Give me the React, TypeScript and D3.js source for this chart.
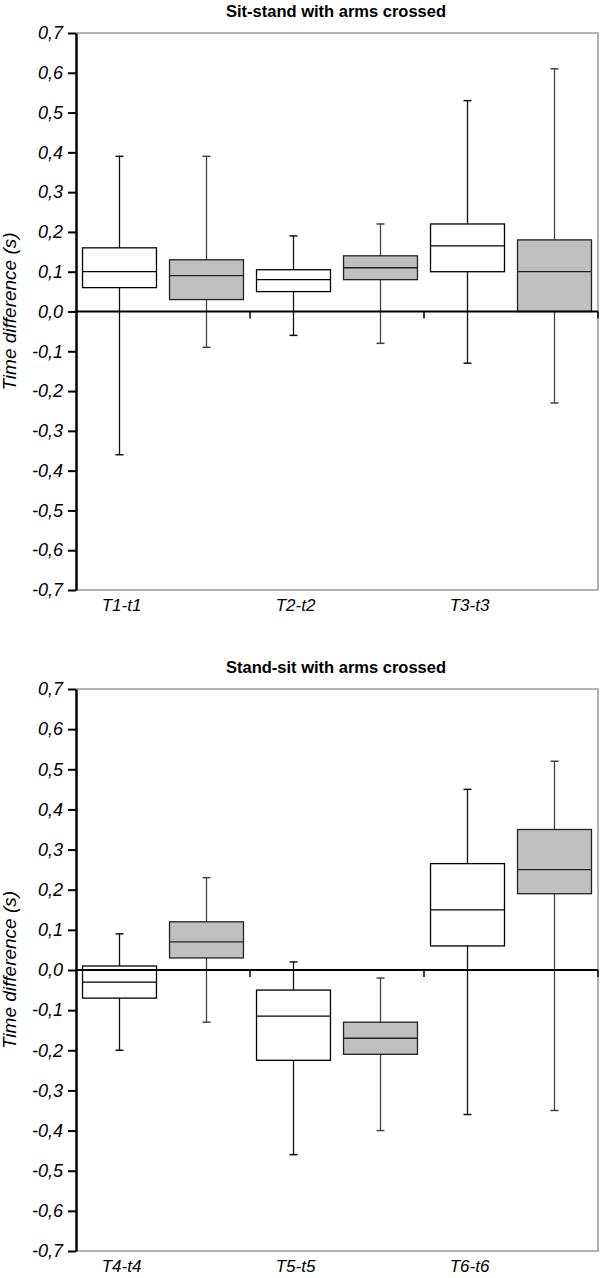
import React, { useEffect, useRef } from 'react'
import * as d3 from 'd3'

// box plot data (white = first box, gray = second box)
const categoriesTop = ['T1-t1', 'T2-t2', 'T3-t3']
const categoriesBottom = ['T4-t4', 'T5-t5', 'T6-t6']

const topWhiteMin = [-0.36, -0.06, -0.13]
const topWhiteQ1 = [0.06, 0.05, 0.10]
const topWhiteMed = [0.10, 0.08, 0.165]
const topWhiteQ3 = [0.16, 0.105, 0.22]
const topWhiteMax = [0.39, 0.19, 0.53]

const topGrayMin = [-0.09, -0.08, -0.23]
const topGrayQ1 = [0.03, 0.08, 0.0]
const topGrayMed = [0.09, 0.11, 0.10]
const topGrayQ3 = [0.13, 0.14, 0.18]
const topGrayMax = [0.39, 0.22, 0.61]

const botWhiteMin = [-0.20, -0.46, -0.36]
const botWhiteQ1 = [-0.07, -0.225, 0.06]
const botWhiteMed = [-0.03, -0.115, 0.15]
const botWhiteQ3 = [0.01, -0.05, 0.265]
const botWhiteMax = [0.09, 0.02, 0.45]

const botGrayMin = [-0.13, -0.40, -0.35]
const botGrayQ1 = [0.03, -0.21, 0.19]
const botGrayMed = [0.07, -0.17, 0.25]
const botGrayQ3 = [0.12, -0.13, 0.35]
const botGrayMax = [0.23, -0.02, 0.52]

const yTicks = [0.7, 0.6, 0.5, 0.4, 0.3, 0.2, 0.1, 0, -0.1, -0.2, -0.3, -0.4, -0.5, -0.6, -0.7]

const FONT = "'Liberation Sans', Arial, Helvetica, sans-serif"

type Panel = {
  title: string
  cats: string[]
  white: number[][]
  gray: number[][]
  top: number
  bottom: number
}

export default function App() {
  const ref = useRef<SVGSVGElement>(null)

  useEffect(() => {
    const svg = d3.select(ref.current)
    svg.selectAll('*').remove()

    const left = 76
    const right = 598

    const panels: Panel[] = [
      {
        title: 'Sit-stand with arms crossed',
        cats: categoriesTop,
        white: [topWhiteMin, topWhiteQ1, topWhiteMed, topWhiteQ3, topWhiteMax],
        gray: [topGrayMin, topGrayQ1, topGrayMed, topGrayQ3, topGrayMax],
        top: 33,
        bottom: 590,
      },
      {
        title: 'Stand-sit with arms crossed',
        cats: categoriesBottom,
        white: [botWhiteMin, botWhiteQ1, botWhiteMed, botWhiteQ3, botWhiteMax],
        gray: [botGrayMin, botGrayQ1, botGrayMed, botGrayQ3, botGrayMax],
        top: 689,
        bottom: 1251,
      },
    ]

    panels.forEach((p) => {
      const g = svg.append('g')

      const y = d3.scaleLinear().domain([-0.7, 0.7]).range([p.bottom, p.top])
      const x = d3.scaleBand<string>().domain(p.cats).range([left, right]).padding(0)
      const sub = d3.scaleBand<string>()
        .domain(['white', 'gray'])
        .range([0, x.bandwidth()])
        .paddingInner(0.15)
        .paddingOuter(0.075)

      /* title */
      g.append('text')
        .attr('x', (left + right) / 2 - 1)
        .attr('y', p.top - 16)
        .attr('text-anchor', 'middle')
        .attr('font-family', FONT)
        .attr('font-weight', 'bold')
        .attr('font-size', 16.5)
        .text(p.title)

      /* frame: top, right, bottom in gray */
      g.append('path')
        .attr('d', `M${left},${p.top}H${right}V${p.bottom}H${left}`)
        .attr('fill', 'none')
        .attr('stroke', '#999')
        .attr('stroke-width', 1.5)

      /* boxes */
      const series = [
        { key: 'white', vals: p.white, fill: '#ffffff', stroke: '#000', whisker: '#111' },
        { key: 'gray', vals: p.gray, fill: '#c0c0c0', stroke: '#222', whisker: '#444' },
      ]
      const capW = 8
      series.forEach((s) => {
        p.cats.forEach((c, i) => {
          const [mn, q1, md, q3, mx] = s.vals.map((a) => a[i])
          const x0 = (x(c) ?? 0) + (sub(s.key) ?? 0)
          const bw = sub.bandwidth()
          const cx = x0 + bw / 2
          const bg = g.append('g')
          bg.append('line')
            .attr('x1', cx).attr('x2', cx)
            .attr('y1', y(mx)).attr('y2', y(mn))
            .attr('stroke', s.whisker).attr('stroke-width', 1.3)
          bg.append('line')
            .attr('x1', cx - capW / 2).attr('x2', cx + capW / 2)
            .attr('y1', y(mx)).attr('y2', y(mx))
            .attr('stroke', s.whisker).attr('stroke-width', 1.5)
          bg.append('line')
            .attr('x1', cx - capW / 2).attr('x2', cx + capW / 2)
            .attr('y1', y(mn)).attr('y2', y(mn))
            .attr('stroke', s.whisker).attr('stroke-width', 1.5)
          bg.append('rect')
            .attr('x', x0).attr('width', bw)
            .attr('y', y(q3)).attr('height', y(q1) - y(q3))
            .attr('fill', s.fill)
            .attr('stroke', s.stroke).attr('stroke-width', 1.3)
          bg.append('line')
            .attr('x1', x0).attr('x2', x0 + bw)
            .attr('y1', y(md)).attr('y2', y(md))
            .attr('stroke', s.stroke).attr('stroke-width', 1.3)
        })
      })

      /* zero line with category ticks */
      g.append('line')
        .attr('x1', left).attr('x2', right)
        .attr('y1', y(0)).attr('y2', y(0))
        .attr('stroke', '#000').attr('stroke-width', 2.2)
      p.cats.forEach((c) => {
        const tx = (x(c) ?? 0) + x.bandwidth()
        g.append('line')
          .attr('x1', tx).attr('x2', tx)
          .attr('y1', y(0)).attr('y2', y(0) + 7)
          .attr('stroke', '#000').attr('stroke-width', 1.5)
      })

      /* category labels under the first box of each group */
      p.cats.forEach((c) => {
        const cx = (x(c) ?? 0) + (sub('white') ?? 0) + sub.bandwidth() / 2
        g.append('text')
          .attr('x', cx + 2)
          .attr('y', p.bottom + 21)
          .attr('text-anchor', 'middle')
          .attr('font-family', FONT)
          .attr('font-style', 'italic')
          .attr('font-size', 17)
          .text(c)
      })

      /* y axis */
      const axis = d3.axisLeft(y)
        .tickValues(yTicks)
        .tickSize(8)
        .tickSizeOuter(0)
        .tickPadding(5)
        .tickFormat((d) => d3.format('.1f')(d as number).replace('−', '-').replace('.', ','))
      const ag = g.append('g').attr('transform', `translate(${left},0)`).call(axis)
      ag.select('.domain').attr('stroke', '#000').attr('stroke-width', 2.5)
      ag.selectAll('.tick line').attr('stroke', '#000').attr('stroke-width', 2)
      ag.selectAll('.tick text')
        .attr('font-family', FONT)
        .attr('font-style', 'italic')
        .attr('font-size', 18)
        .attr('fill', '#000')

      /* y axis title */
      g.append('text')
        .attr('transform', `translate(16,${(p.top + p.bottom) / 2}) rotate(-90)`)
        .attr('text-anchor', 'middle')
        .attr('font-family', FONT)
        .attr('font-style', 'italic')
        .attr('font-size', 19)
        .text('Time difference (s)')
    })
  }, [])

  return (
    <svg
      ref={ref}
      width={600}
      height={1278}
      style={{ position: 'absolute', left: 0, top: 0, background: '#fff' }}
    />
  )
}
